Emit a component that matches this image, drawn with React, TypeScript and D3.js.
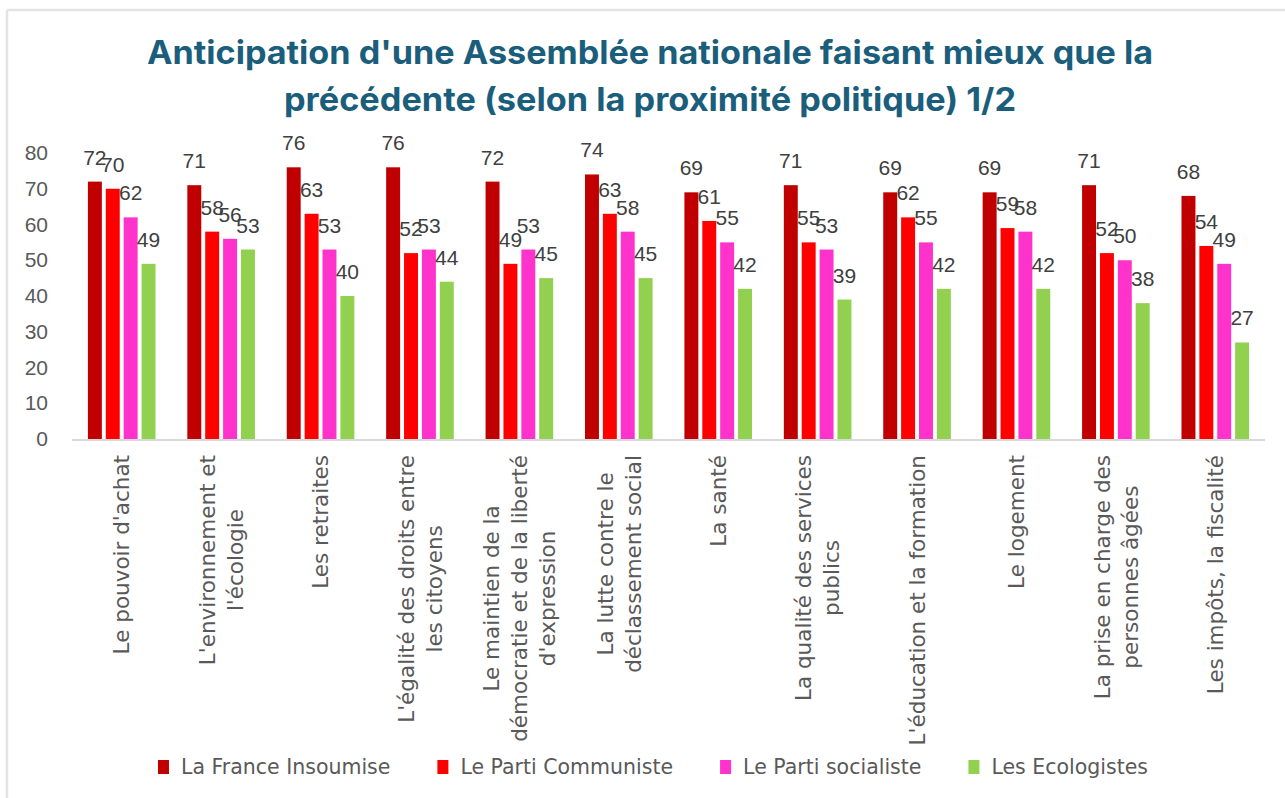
import React, { useEffect, useRef } from 'react';
import * as d3 from 'd3';

// chart values
const categories: string[][] = [
  ["Le pouvoir d'achat"],
  ["L'environnement et", "l'écologie"],
  ["Les retraites"],
  ["L'égalité des droits entre", "les citoyens"],
  ["Le maintien de la", "démocratie et de la liberté", "d'expression"],
  ["La lutte contre le", "déclassement social"],
  ["La santé"],
  ["La qualité des services", "publics"],
  ["L'éducation et la formation"],
  ["Le logement"],
  ["La prise en charge des", "personnes âgées"],
  ["Les impôts, la fiscalité"],
];
const seriesNames = ['La France Insoumise', 'Le Parti Communiste', 'Le Parti socialiste', 'Les Ecologistes'];
const seriesColors = ['#C00000', '#FF0000', '#FF33CC', '#92D050'];
const lfi = [72, 71, 76, 76, 72, 74, 69, 71, 69, 69, 71, 68];
const pcf = [70, 58, 63, 52, 49, 63, 61, 55, 62, 59, 52, 54];
const ps = [62, 56, 53, 53, 53, 58, 55, 53, 55, 58, 50, 49];
const eco = [49, 53, 40, 44, 45, 45, 42, 39, 42, 42, 38, 27];
const yTicks = [0, 10, 20, 30, 40, 50, 60, 70, 80];
const titleLines = [
  "Anticipation d'une Assemblée nationale faisant mieux que la",
  'précédente (selon la proximité politique) 1/2',
];

const W = 1285;
const H = 798;
const numFont = '"Liberation Sans", Arial, sans-serif';
const textFont = '"DejaVu Sans", sans-serif';

export default function App() {
  const ref = useRef<SVGSVGElement>(null);

  useEffect(() => {
    const svg = d3.select(ref.current);
    svg.selectAll('*').remove();

    const series = [lfi, pcf, ps, eco];

    // frame
    svg.append('line').attr('x1', 7).attr('y1', 10).attr('x2', W).attr('y2', 10)
      .attr('stroke', '#e4e4e4').attr('stroke-width', 2.5);
    svg.append('line').attr('x1', 7).attr('y1', 10).attr('x2', 7).attr('y2', H)
      .attr('stroke', '#e4e4e4').attr('stroke-width', 2.5);

    // title
    const titleWidths = [1006, 732];
    svg.selectAll('text.title').data(titleLines).enter().append('text')
      .attr('class', 'title')
      .attr('x', 650)
      .attr('y', (d, i) => 64 + i * 47)
      .attr('text-anchor', 'middle')
      .attr('textLength', (d, i) => titleWidths[i])
      .attr('lengthAdjust', 'spacingAndGlyphs')
      .style('font-family', 'Inter, "Liberation Sans", sans-serif')
      .style('font-weight', 700)
      .style('font-size', '32px')
      .style('fill', '#1a5e7c')
      .text(d => d);

    const x = d3.scaleBand<number>()
      .domain(d3.range(categories.length))
      .range([72, 1265])
      .paddingInner(0.32)
      .paddingOuter(0.16);
    const x1 = d3.scaleBand<number>()
      .domain(d3.range(series.length))
      .range([0, x.bandwidth()])
      .paddingInner(0.22);
    const y = d3.scaleLinear().domain([0, 80]).range([439, 153]);

    // y tick labels
    svg.selectAll('text.ytick').data(yTicks).enter().append('text')
      .attr('class', 'ytick')
      .attr('x', 48)
      .attr('y', d => y(d) + 7)
      .attr('text-anchor', 'end')
      .style('font-family', numFont)
      .style('font-size', '21px')
      .style('fill', '#595959')
      .text(d => d);

    // bars
    series.forEach((vals, s) => {
      svg.append('g').selectAll('rect').data(vals).enter().append('rect')
        .attr('x', (d, i) => (x(i) as number) + (x1(s) as number))
        .attr('y', d => y(d))
        .attr('width', x1.bandwidth())
        .attr('height', d => y(0) - y(d))
        .attr('fill', seriesColors[s]);
    });

    // axis line
    svg.append('line')
      .attr('x1', 72).attr('x2', 1265)
      .attr('y1', y(0) + 1).attr('y2', y(0) + 1)
      .attr('stroke', '#d9d9d9').attr('stroke-width', 2);

    // data labels
    series.forEach((vals, s) => {
      svg.append('g').selectAll('text').data(vals).enter().append('text')
        .attr('x', (d, i) => (x(i) as number) + (x1(s) as number) + x1.bandwidth() / 2)
        .attr('y', d => y(d) - 17)
        .attr('text-anchor', 'middle')
        .style('font-family', numFont)
        .style('font-size', '21px')
        .style('fill', '#404040')
        .text(d => d);
    });

    // x labels, rotated, lines centred within the block
    const fs = 21.5;
    const lineH = 28;
    categories.forEach((lines, i) => {
      const cx = (x(i) as number) + x.bandwidth() / 2;
      const g = svg.append('g').attr('transform', `translate(${cx},455) rotate(-90)`);
      const texts = g.selectAll('text').data(lines).enter().append('text')
        .attr('y', (d, j) => (j - (lines.length - 1) / 2) * lineH + fs * 0.36)
        .attr('text-anchor', 'middle')
        .style('font-family', textFont)
        .style('font-size', fs + 'px')
        .style('fill', '#595959')
        .text(d => d);
      let maxW = 0;
      texts.each(function () {
        maxW = Math.max(maxW, (this as SVGTextElement).getComputedTextLength());
      });
      texts.attr('x', -maxW / 2);
    });

    // legend
    const legendY = 767;
    const lg = svg.append('g');
    const items = seriesNames.map((name, s) => {
      const it = lg.append('g');
      it.append('rect').attr('x', 0).attr('y', legendY - 7).attr('width', 11).attr('height', 14)
        .attr('fill', seriesColors[s]);
      const t = it.append('text')
        .attr('x', 23).attr('y', legendY + 7)
        .style('font-family', textFont)
        .style('font-size', '20.5px')
        .style('fill', '#595959')
        .text(name);
      const w = 23 + (t.node() as SVGTextElement).getComputedTextLength();
      return { it, w };
    });
    const gap = 47;
    const total = d3.sum(items, d => d.w) + gap * (items.length - 1);
    let cur = 653 - total / 2;
    items.forEach(d => {
      d.it.attr('transform', `translate(${cur},0)`);
      cur += d.w + gap;
    });
  }, []);

  return (
    <div style={{ position: 'absolute', left: 0, top: 0 }}>
      <svg ref={ref} width={W} height={H} style={{ display: 'block', background: '#fff' }} />
    </div>
  );
}
